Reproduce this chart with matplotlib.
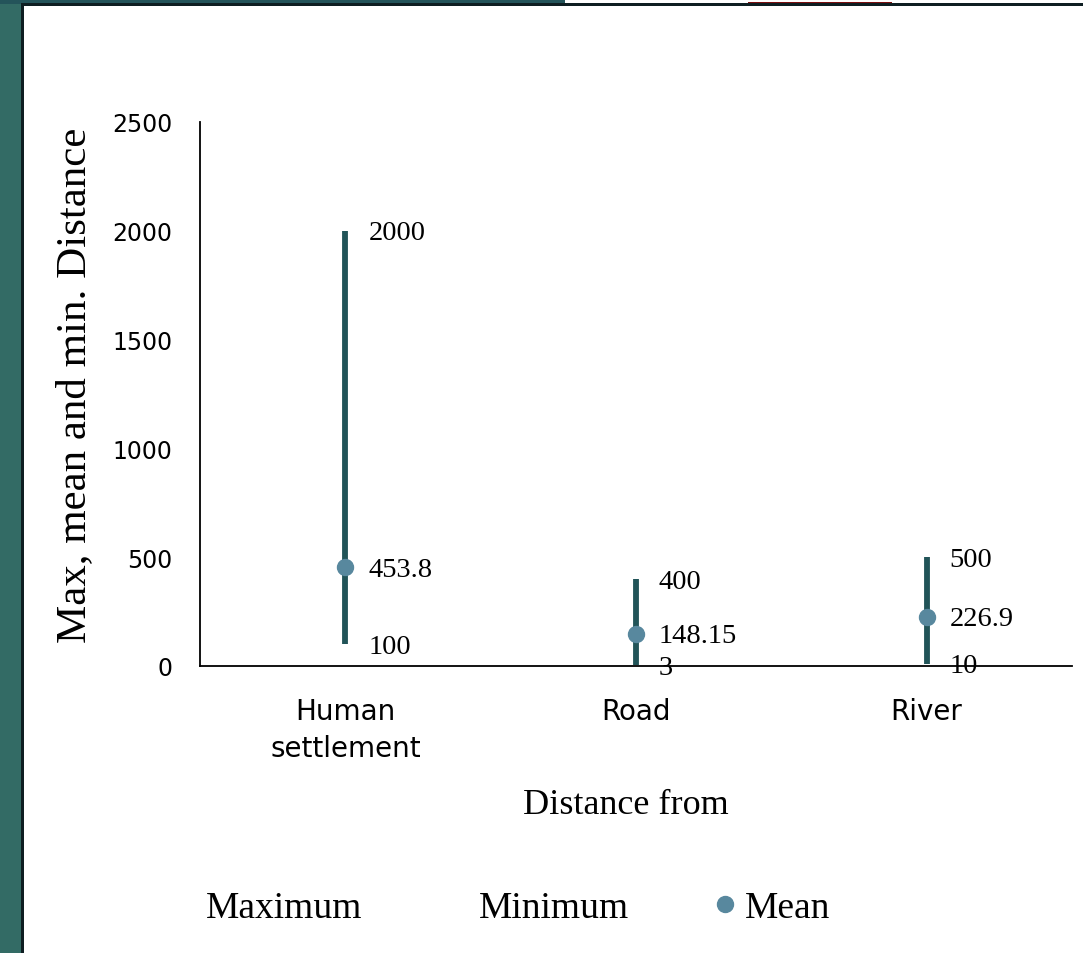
import matplotlib.pyplot as plt
from matplotlib.lines import Line2D
from matplotlib.patches import Rectangle

# distances (m) for each feature type
categories = ['Human\nsettlement', 'Road', 'River']
maximum = [2000, 400, 500]
minimum = [100, 3, 10]
mean = [453.8, 148.15, 226.9]

max_labels = ['2000', '400', '500']
min_labels = ['100', '3', '10']
mean_labels = ['453.8', '148.15', '226.9']

yticks = [0, 500, 1000, 1500, 2000, 2500]

line_color = '#215458'
mean_color = '#58889e'
serif = 'Liberation Serif'
sans = 'DejaVu Sans'

W, H = 1083, 954
fig = plt.figure(figsize=(W / 100, H / 100), dpi=100)
fig.patch.set_facecolor('white')


def fx(px):
    return px / W


def fy(py):
    return 1 - py / H


# slide frame: teal side band, dark top band, black border lines
fig.patches.append(Rectangle((0, 0), fx(21), 1, transform=fig.transFigure,
                             facecolor='#336b65', edgecolor='none', zorder=0))
fig.patches.append(Rectangle((0, fy(5)), fx(565), fy(0) - fy(5), transform=fig.transFigure,
                             facecolor='#24545a', edgecolor='none', zorder=0))
fig.patches.append(Rectangle((fx(748), fy(5)), fx(144), fy(3) - fy(5), transform=fig.transFigure,
                             facecolor='#7a1010', edgecolor='none', zorder=1))
fig.patches.append(Rectangle((fx(21), fy(7)), 1 - fx(21), fy(4) - fy(7), transform=fig.transFigure,
                             facecolor='#0e1e22', edgecolor='none', zorder=1))
fig.patches.append(Rectangle((fx(21), 0), fx(3), fy(5), transform=fig.transFigure,
                             facecolor='#0e1e22', edgecolor='none', zorder=1))

ax = fig.add_axes([fx(200), fy(667), fx(1072) - fx(200), fy(123) - fy(667)])
ax.set_facecolor('none')

x = list(range(len(categories)))
ax.vlines(x, minimum, maximum, color=line_color, linewidth=4.2, zorder=2)
ax.plot(x, mean, linestyle='none', marker='o', markersize=11.5,
        color=mean_color, zorder=3)

for i in x:
    for val, lab in ((maximum[i], max_labels[i]), (minimum[i], min_labels[i]),
                     (mean[i], mean_labels[i])):
        ax.annotate(lab, (i, val), xytext=(16.5, -1.5), textcoords='offset points',
                    ha='left', va='center', fontsize=20.5, family=serif, color='black')

ax.set_xlim(-0.5, 2.5)
ax.set_ylim(0, 2500)
ax.set_xticks(x)
ax.set_xticklabels(categories, fontsize=20, family=sans, linespacing=1.45)
ax.set_yticks(yticks)
ax.set_yticklabels([str(v) for v in yticks], fontsize=17, family=sans)
ax.tick_params(axis='y', length=0, pad=20)
ax.tick_params(axis='x', length=0, pad=22)

for side in ('top', 'right'):
    ax.spines[side].set_visible(False)
ax.spines['left'].set_linewidth(1.3)
ax.spines['bottom'].set_linewidth(1.3)

ax.set_ylabel('Max, mean and min. Distance', fontsize=31, family=serif)
ax.yaxis.label.set_va('center')
ax.yaxis.set_label_coords(-0.143, 0.517)
ax.set_xlabel('Distance from', fontsize=26, family=serif)
ax.xaxis.label.set_va('center')
ax.xaxis.set_label_coords(0.4885, -0.254)

handles = [Line2D([], [], linestyle='none'),
           Line2D([], [], linestyle='none'),
           Line2D([], [], linestyle='none', marker='o', markersize=11.5, color=mean_color)]
fig.legend(handles, ['Maximum', 'Minimum', 'Mean'], loc='center left',
           bbox_to_anchor=(fx(176), fy(909)), ncol=3, frameon=False,
           prop={'family': serif, 'size': 27}, handlelength=0.5,
           handletextpad=0.3, columnspacing=2.3, borderpad=0, borderaxespad=0)

fig.savefig('out.png', dpi=100)
